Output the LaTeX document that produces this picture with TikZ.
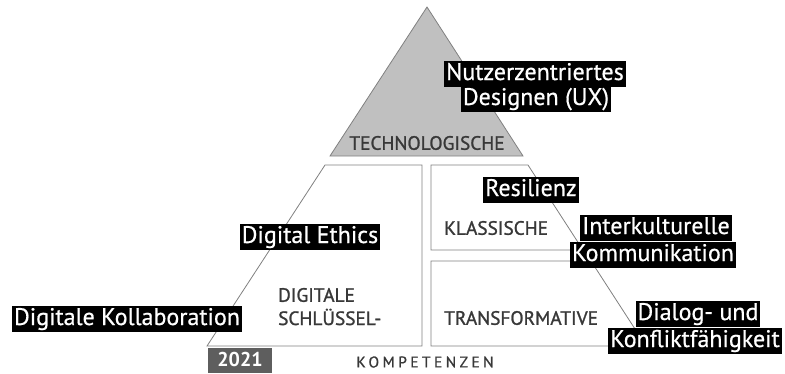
\documentclass[tikz,border=0pt]{standalone}
\usepackage{fontspec}
\setmainfont{PT Sans}
\newfontfamily\capfont[FakeBold=1.2]{PT Sans}
\newfontfamily\tagfont[FakeBold=0.6]{PT Sans}
\newfontfamily\spacedfont[LetterSpace=22,FakeBold=0.8]{PT Sans}
\definecolor{trigray}{HTML}{C0C0C0}
\definecolor{linegray}{HTML}{808080}
\definecolor{txtgray}{HTML}{383838}
\definecolor{yeargray}{HTML}{5E5E5E}
\begin{document}
\begin{tikzpicture}[x=1bp,y=-1bp,
  panel/.style={draw=linegray, line width=0.8bp, fill=white},
  caption/.style={text=txtgray, font=\capfont\fontsize{19.3bp}{22bp}\selectfont, inner sep=0pt},
  tag/.style={fill=black, text=white, font=\tagfont\fontsize{24bp}{26bp}\selectfont,
    inner xsep=2bp, inner ysep=1bp, text height=18bp, text depth=6bp}]
\useasboundingbox (0,0) rectangle (785,373);
% pyramid
\draw[panel, fill=trigray] (427,7) -- (330,156) -- (523,156) -- cycle;
\draw[panel] (325,165) -- (422,165) -- (422,346) -- (207,346) -- cycle;
\draw[panel] (431,165) -- (528,165) -- (583,250) -- (431,250) -- cycle;
\draw[panel] (431,261) -- (591,261) -- (646,346) -- (431,346) -- cycle;
% captions
\node[caption] (tech) at (427,143) {TECHNOLOGISCHE};
\node[caption, anchor=west] (klass) at (444,228) {KLASSISCHE};
\node[caption, anchor=west] (trans) at (444,318) {TRANSFORMATIVE};
\node[caption, anchor=west] (dig1) at (278,295) {DIGITALE};
\node[caption, anchor=west] (dig2) at (278,317) {SCHLÜSSEL-};
\node[text=txtgray, font=\spacedfont\fontsize{15.5bp}{17bp}\selectfont, inner sep=0pt] (komp) at (425,362) {KOMPETENZEN};
\fill[yeargray] (208,348) rectangle (272,373);
\node[text=white, font=\bfseries\fontsize{20bp}{22bp}\selectfont, inner sep=0pt] (year) at (240,359) {2021};
% tags
\node[tag] (nutz) at (535,74) {Nutzerzentriertes\ };
\node[tag] (des) at (536,99) {Designen (UX)};
\node[tag] (res) at (531,190) {Resilienz};
\node[tag] (eth) at (310,237) {Digital Ethics};
\node[tag] (inter) at (656,228) {Interkulturelle\ };
\node[tag] (komm) at (653,255) {Kommunikation};
\node[tag] (dia) at (698,314) {Dialog- und\ };
\node[tag] (konf) at (695,341) {Konfliktfähigkeit};
\node[tag] (koll) at (127,319) {Digitale Kollaboration};
\end{tikzpicture}
\end{document}
